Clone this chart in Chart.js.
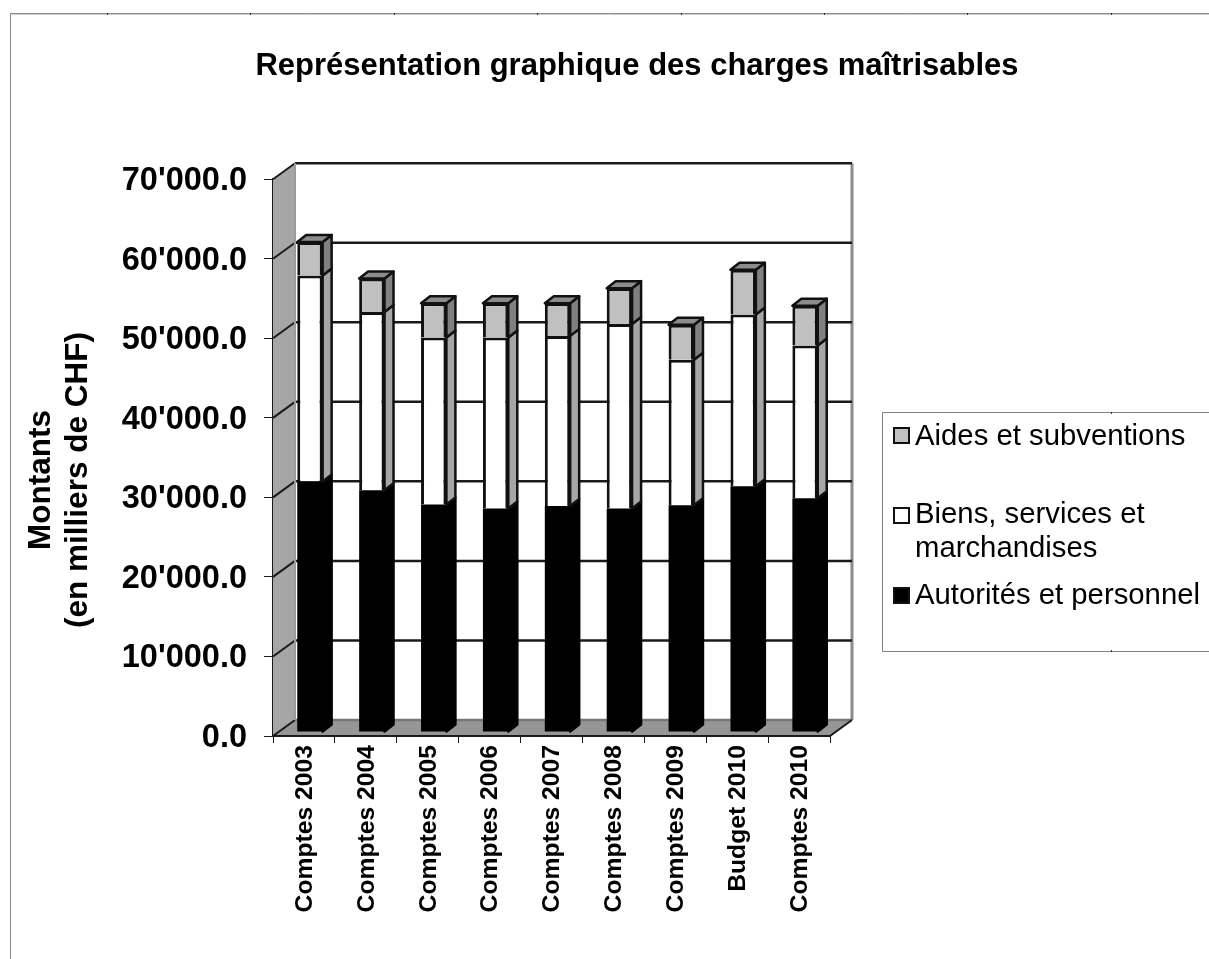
<!DOCTYPE html>
<html>
<head>
<meta charset="utf-8">
<title>Charges maîtrisables</title>
<script src="https://cdn.jsdelivr.net/npm/chart.js@4"></script>
<style>
  html, body { margin: 0; padding: 0; background: #fff; }
  #wrap { width: 1209px; height: 959px; }
  canvas { display: block; }
</style>
</head>
<body>
<div id="wrap"><canvas id="chargesChart" width="1209" height="959"></canvas></div>
<script>
  const categories = ['Comptes 2003', 'Comptes 2004', 'Comptes 2005', 'Comptes 2006', 'Comptes 2007', 'Comptes 2008', 'Comptes 2009', 'Budget 2010', 'Comptes 2010'];
  const autorites = [31500, 30400, 28600, 28100, 28400, 28100, 28500, 30900, 29400];
  const biens = [25900, 22400, 21000, 21500, 21400, 23200, 18300, 21600, 19200];
  const aides = [4200, 4200, 4300, 4300, 4100, 4500, 4400, 5600, 5000];
  const yTickLabels = ['0.0', "10'000.0", "20'000.0", "30'000.0", "40'000.0", "50'000.0", "60'000.0", "70'000.0"];
  const chartTitle = 'Représentation graphique des charges maîtrisables';
  const axisTitle = ['Montants', '(en milliers de CHF)'];
  const legendLines = [
    { fill: '#c0c0c0', lines: [['Aides et subventions', 445]], box: 428 },
    { fill: '#ffffff', lines: [['Biens, services et', 523], ['marchandises', 557]], box: 508 },
    { fill: '#000000', lines: [['Autorités et personnel', 604]], box: 588 }
  ];

  const FONT = '"Liberation Sans", Arial, sans-serif';
  const INK = '#1a1a1a';
  // fake 3D: wall depth and the offset/depth of the bars
  const wallDx = 22, wallDy = 16;
  const barShiftX = 6, barShiftY = -4;
  const barDx = 9, barDy = 7;

  function poly(ctx, pts, fill, stroke, lw) {
    ctx.beginPath();
    pts.forEach((p, i) => i ? ctx.lineTo(p[0], p[1]) : ctx.moveTo(p[0], p[1]));
    ctx.closePath();
    if (fill) { ctx.fillStyle = fill; ctx.fill(); }
    if (stroke) { ctx.strokeStyle = stroke; ctx.lineWidth = lw || 2; ctx.lineJoin = 'round'; ctx.stroke(); }
  }

  function line(ctx, x1, y1, x2, y2, color, lw) {
    ctx.beginPath();
    ctx.moveTo(x1, y1);
    ctx.lineTo(x2, y2);
    ctx.strokeStyle = color;
    ctx.lineWidth = lw;
    ctx.stroke();
  }

  const pagePlugin = {
    id: 'pageFrame',
    beforeDraw: (chart) => {
      const ctx = chart.ctx;
      // centre the title over the same spot as the original slide
      chart.titleBlock.left = 65;
      chart.titleBlock.right = 1209;
      ctx.save();
      ctx.fillStyle = '#fff';
      ctx.fillRect(0, 0, chart.width, chart.height);
      line(ctx, 10, 13.5, 1209, 13.5, '#8c8c8c', 1);
      line(ctx, 10, 14.5, 1209, 14.5, '#cfcfcf', 1);
      line(ctx, 10.5, 13, 10.5, 959, '#8c8c8c', 1);
      // small handles left on the slide frame
      for (let x = 107; x < 1209; x += 143.4) {
        line(ctx, Math.round(x) + 0.5, 13, Math.round(x) + 0.5, 15, '#333', 1);
      }
      ctx.restore();
    },
    afterDraw: (chart) => {
      const ctx = chart.ctx;
      ctx.save();
      ctx.strokeStyle = '#808080';
      ctx.lineWidth = 1;
      ctx.beginPath();
      ctx.moveTo(1209, 412.5);
      ctx.lineTo(882.5, 412.5);
      ctx.lineTo(882.5, 651.5);
      ctx.lineTo(1209, 651.5);
      ctx.stroke();
      line(ctx, 1111.5, 412, 1111.5, 414, '#333', 1);
      line(ctx, 1111.5, 650, 1111.5, 652, '#333', 1);
      ctx.font = '29.3px ' + FONT;
      ctx.textBaseline = 'alphabetic';
      ctx.textAlign = 'left';
      legendLines.forEach(item => {
        ctx.fillStyle = item.fill;
        ctx.fillRect(894, item.box, 15, 15);
        ctx.strokeStyle = '#111';
        ctx.lineWidth = 2;
        ctx.strokeRect(894, item.box, 15, 15);
        ctx.fillStyle = '#000';
        item.lines.forEach(l => ctx.fillText(l[0], 915, l[1]));
      });
      // axis title sits lower than the plot centre, so the scale title can't place it
      ctx.translate(0, 480);
      ctx.rotate(-Math.PI / 2);
      ctx.font = 'bold 31.5px ' + FONT;
      ctx.textAlign = 'center';
      ctx.textBaseline = 'middle';
      ctx.fillStyle = '#000';
      ctx.fillText(axisTitle[0], 0, 41);
      ctx.fillText(axisTitle[1], 0, 78);
      ctx.restore();
    }
  };

  const wallsPlugin = {
    id: 'walls3d',
    beforeDatasetsDraw: (chart) => {
      const ctx = chart.ctx;
      const { left, right, top, bottom } = chart.chartArea;
      const y = chart.scales.y;
      ctx.save();
      // back wall
      poly(ctx, [[left + wallDx, top - wallDy], [right + wallDx, top - wallDy], [right + wallDx, bottom - wallDy], [left + wallDx, bottom - wallDy]], '#fff');
      // side wall + floor
      poly(ctx, [[left, top], [left + wallDx, top - wallDy], [left + wallDx, bottom - wallDy], [left, bottom]], '#a6a6a6');
      poly(ctx, [[left, bottom], [left + wallDx, bottom - wallDy], [right + wallDx, bottom - wallDy], [right, bottom]], '#969696');
      line(ctx, right + wallDx, top - wallDy, right + wallDx, bottom - wallDy, '#8c8c8c', 3);
      // gridlines run along side wall then back wall
      y.ticks.forEach((t) => {
        const py = y.getPixelForValue(t.value);
        line(ctx, left, py, left + wallDx, py - wallDy, INK, 2);
        line(ctx, left + wallDx, py - wallDy, right + wallDx, py - wallDy, t.value === 0 ? '#777' : INK, 2.5);
      });
      line(ctx, left + wallDx, top - wallDy, left + wallDx, bottom - wallDy, '#9a9a9a', 2);
      line(ctx, left, bottom, right, bottom, INK, 2);
      line(ctx, right, bottom, right + wallDx, bottom - wallDy, INK, 2);
      ctx.restore();
      // datasets get drawn in the shifted frame, restored in afterDatasetsDraw
      ctx.save();
      ctx.translate(barShiftX, barShiftY);
    },
    afterDatasetsDraw: (chart) => {
      const ctx = chart.ctx;
      const sideColors = ['#000000', '#a6a6a6', '#808080'];
      const last = chart.data.datasets.length - 1;
      chart.data.datasets.forEach((ds, i) => {
        chart.getDatasetMeta(i).data.forEach((bar) => {
          const p = bar.getProps(['x', 'y', 'base', 'width'], true);
          const xr = p.x + p.width / 2;
          const xl = p.x - p.width / 2;
          const stroke = i === 0 ? '#000' : '#111';
          poly(ctx, [[xr, p.y], [xr + barDx, p.y - barDy], [xr + barDx, p.base - barDy], [xr, p.base]], sideColors[i], stroke, 2.5);
          if (i === last) {
            poly(ctx, [[xl, p.y], [xl + barDx, p.y - barDy], [xr + barDx, p.y - barDy], [xr, p.y]], '#8c8c8c', '#111', 2.5);
          }
        });
      });
      ctx.restore();
    }
  };

  const barStyle = { borderSkipped: false, barPercentage: 0.41, categoryPercentage: 1 };
  const openBorder = { left: 3, right: 3, top: 3, bottom: 0 };

  new Chart(document.getElementById('chargesChart'), {
    type: 'bar',
    data: {
      labels: categories,
      datasets: [
        { label: 'Autorités et personnel', data: autorites, backgroundColor: '#000000', borderColor: '#000000', borderWidth: 0, ...barStyle },
        { label: 'Biens, services et marchandises', data: biens, backgroundColor: '#ffffff', borderColor: '#111', borderWidth: openBorder, ...barStyle },
        { label: 'Aides et subventions', data: aides, backgroundColor: '#c0c0c0', borderColor: '#111', borderWidth: openBorder, ...barStyle }
      ]
    },
    options: {
      responsive: false,
      animation: false,
      layout: { padding: { left: 20, right: 379, top: 0, bottom: 43 } },
      plugins: {
        legend: { display: false },
        tooltip: { enabled: false },
        title: {
          display: true,
          text: chartTitle,
          color: '#000',
          font: { family: FONT, size: 31, weight: 'bold', lineHeight: 1.2 },
          padding: { top: 48, bottom: 94 }
        }
      },
      scales: {
        x: {
          stacked: true,
          afterFit: (scale) => { scale.height = 180; },
          grid: { drawOnChartArea: false, drawTicks: true, tickLength: 7, color: INK, lineWidth: 1 },
          border: { display: false },
          ticks: {
            color: '#000',
            font: { family: FONT, size: 24.7, weight: 'bold' },
            minRotation: 90,
            maxRotation: 90,
            autoSkip: false,
            labelOffset: 1,
            padding: 2
          }
        },
        y: {
          stacked: true,
          min: 0,
          max: 70000,
          afterFit: (scale) => { scale.width = 253; },
          grid: { drawOnChartArea: false, drawTicks: true, tickLength: 9, color: INK, lineWidth: 1 },
          border: { display: true, color: INK, width: 2 },
          ticks: {
            stepSize: 10000,
            color: '#000',
            font: { family: FONT, size: 32.5, weight: 'bold' },
            padding: 17,
            labelOffset: 2,
            callback: (value, index) => yTickLabels[index]
          }
        }
      }
    },
    plugins: [pagePlugin, wallsPlugin]
  });
</script>
</body>
</html>
